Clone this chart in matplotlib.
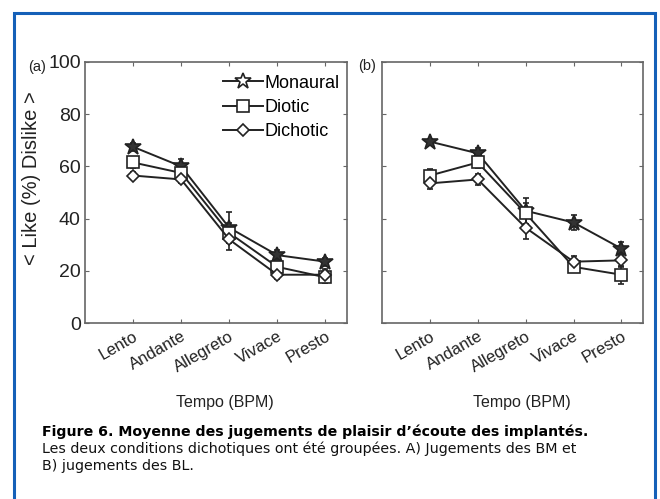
import matplotlib
matplotlib.use("Agg")
import matplotlib.pyplot as plt
from matplotlib.patches import Rectangle
from matplotlib.transforms import ScaledTranslation

plt.rcParams['font.family'] = ['Liberation Sans', 'DejaVu Sans']

tempos = ['Lento', 'Andante', 'Allegreto', 'Vivace', 'Presto']
positions = [1, 2, 3, 4, 5]

# panel (a): BM listeners
a_monaural = [67.5, 60, 36.5, 26, 23.5]
a_diotic = [61.5, 57.5, 34.5, 21.5, 17.5]
a_dichotic = [56.5, 55, 32, 18.5, 18.5]
a_monaural_err = [1.5, 3, 6, 2, 1.5]
a_diotic_err = [2, 2, 4, 2, 2]
a_dichotic_err = [1.5, 1.5, 4, 1.5, 2]

# panel (b): BL listeners
b_monaural = [69.5, 65, 43, 38.5, 28.5]
b_diotic = [56.5, 61.5, 42, 21.5, 18.5]
b_dichotic = [53.5, 55, 36.5, 23.5, 24]
b_monaural_err = [1, 2, 5, 3, 2.5]
b_diotic_err = [2.5, 2, 4, 2, 3.5]
b_dichotic_err = [2, 2, 4.5, 2, 2.5]

series_names = ['Monaural', 'Diotic', 'Dichotic']
markers = ['*', 's', 'D']
marker_sizes = [12, 8, 6.5]

fig = plt.figure(figsize=(6.6, 4.99), dpi=100)
fig.patch.set_facecolor('white')

# blue frame around the figure
frame = Rectangle((14 / 660, -0.05), 641 / 660, 1 - 13 / 499 + 0.05,
                  transform=fig.transFigure, fill=False,
                  edgecolor='#1560b8', linewidth=2.2)
fig.patches.append(frame)

ax_a = fig.add_axes([85 / 660, 1 - 323 / 499, 262 / 660, 261 / 499])
ax_b = fig.add_axes([382 / 660, 1 - 323 / 499, 261 / 660, 261 / 499])


def draw_panel(ax, values, errors, show_yticks):
    for vals, errs, name, m, ms in zip(values, errors, series_names, markers, marker_sizes):
        mfc = '#333333' if m == '*' else 'white'
        ax.errorbar(positions, vals, yerr=errs, color='#222222', linewidth=1.4,
                    marker=m, markersize=ms, markerfacecolor=mfc,
                    markeredgecolor='#222222', markeredgewidth=1.2,
                    capsize=2, elinewidth=1.2, label=name)
    ax.set_xlim(0, 5.45)
    ax.set_ylim(0, 100)
    ax.set_xticks(positions)
    ax.set_xticklabels(tempos, rotation=30, ha='right', rotation_mode='anchor',
                       fontsize=12, color='#222222')
    shift = ScaledTranslation(-8 / 100, 0, fig.dpi_scale_trans)
    for lbl in ax.get_xticklabels():
        lbl.set_transform(lbl.get_transform() + shift)
    ax.set_yticks([0, 20, 40, 60, 80, 100])
    if show_yticks:
        ax.set_yticklabels(['0', '20', '40', '60', '80', '100'], fontsize=14,
                           color='#222222')
    else:
        ax.set_yticklabels([])
    ax.tick_params(direction='in', top=True, right=True, length=3,
                   color='#666666', pad=3)
    ax.tick_params(axis='x', pad=4)
    for sp in ax.spines.values():
        sp.set_color('#666666')
        sp.set_linewidth(1.2)


draw_panel(ax_a, [a_monaural, a_diotic, a_dichotic],
           [a_monaural_err, a_diotic_err, a_dichotic_err], True)
draw_panel(ax_b, [b_monaural, b_diotic, b_dichotic],
           [b_monaural_err, b_diotic_err, b_dichotic_err], False)

# axis titles placed as in the scanned figure
fig.text(32 / 660, 1 - 178 / 499, '< Like (%) Dislike >', fontsize=14.5,
         color='#222222', rotation=90, ha='center', va='center')
fig.text(225 / 660, 1 - 403 / 499, 'Tempo (BPM)', fontsize=11.5,
         color='#222222', ha='center', va='center')
fig.text(522 / 660, 1 - 403 / 499, 'Tempo (BPM)', fontsize=11.5,
         color='#222222', ha='center', va='center')

handles, labels = ax_a.get_legend_handles_labels()
handles = [h[0] for h in handles]
leg = ax_a.legend(handles, labels, loc='upper right', frameon=False, fontsize=13,
                  handlelength=2.2, handletextpad=0.1, labelspacing=0.4,
                  borderaxespad=0.3, bbox_to_anchor=(1.02, 1.0))
# legend star drawn as an outline, like the original
leg.legend_handles[0].set_markerfacecolor('white')

fig.text(28 / 660, 1 - 67 / 499, '(a)', fontsize=10.5, color='#222222', va='center')
fig.text(358 / 660, 1 - 66 / 499, '(b)', fontsize=10.5, color='#222222', va='center')

fig.text(42 / 660, 1 - 432 / 499,
         "Figure 6. Moyenne des jugements de plaisir d\u2019\u00e9coute des implant\u00e9s.",
         fontsize=10.2, fontweight='bold', family='DejaVu Sans', color='black',
         va='center')
fig.text(42 / 660, 1 - 449 / 499,
         "Les deux conditions dichotiques ont \u00e9t\u00e9 group\u00e9es. A) Jugements des BM et",
         fontsize=10.3, family='DejaVu Sans', color='#111111', va='center')
fig.text(42 / 660, 1 - 466 / 499, "B) jugements des BL.",
         fontsize=10.3, family='DejaVu Sans', color='#111111', va='center')

fig.savefig('out.png', dpi=100)
